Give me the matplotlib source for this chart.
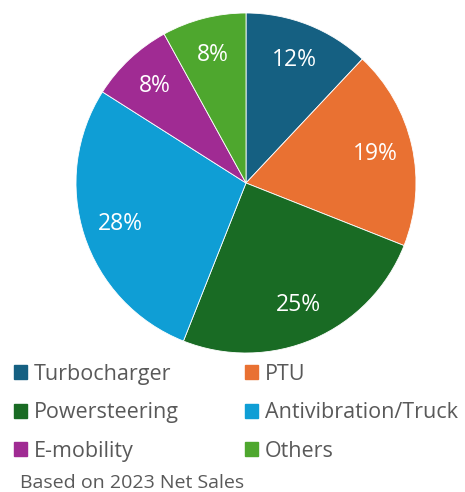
import matplotlib
matplotlib.use("Agg")
import matplotlib.pyplot as plt
import matplotlib.patches as mpatches

segments = ["Turbocharger", "PTU", "Powersteering", "Antivibration/Truck", "E-mobility", "Others"]
shares = [12, 19, 25, 28, 8, 8]
colors = ["#156082", "#E97132", "#196B24", "#0F9ED5", "#A02B93", "#4EA72E"]
note = "Based on 2023 Net Sales"

plt.rcParams["font.family"] = ["Open Sans", "DejaVu Sans"]

fig = plt.figure(figsize=(4.65, 4.92), dpi=100)
ax = fig.add_axes([76 / 465, 1 - 353 / 492, 340 / 465, 340 / 492])
wedges, texts, autotexts = ax.pie(
    shares, colors=colors, startangle=90, counterclock=False,
    autopct="%1.0f%%", pctdistance=0.78,
    wedgeprops={"edgecolor": "white", "linewidth": 0.6},
    textprops={"color": "white", "fontsize": 16.5},
)
ax.set_xlim(-1, 1)
ax.set_ylim(-1, 1)
ax.set_aspect("equal")
ax.axis("off")

# legend is filled row by row in the reference
handles = [mpatches.Patch(color=c, label=s) for s, c in zip(segments, colors)]
order = [0, 2, 4, 1, 3, 5]
fig.legend(handles=[handles[i] for i in order], ncol=2, loc="upper left",
           bbox_to_anchor=(5 / 465, 1 - 355 / 492), frameon=False,
           fontsize=15.5, labelcolor="#595959",
           handlelength=0.62, handleheight=0.62, handletextpad=0.33,
           labelspacing=0.82, columnspacing=3.05, borderaxespad=0)

fig.text(20 / 465, 1 - 483 / 492, note, fontsize=14, color="#595959", va="center")

fig.savefig("out.png", dpi=100)
